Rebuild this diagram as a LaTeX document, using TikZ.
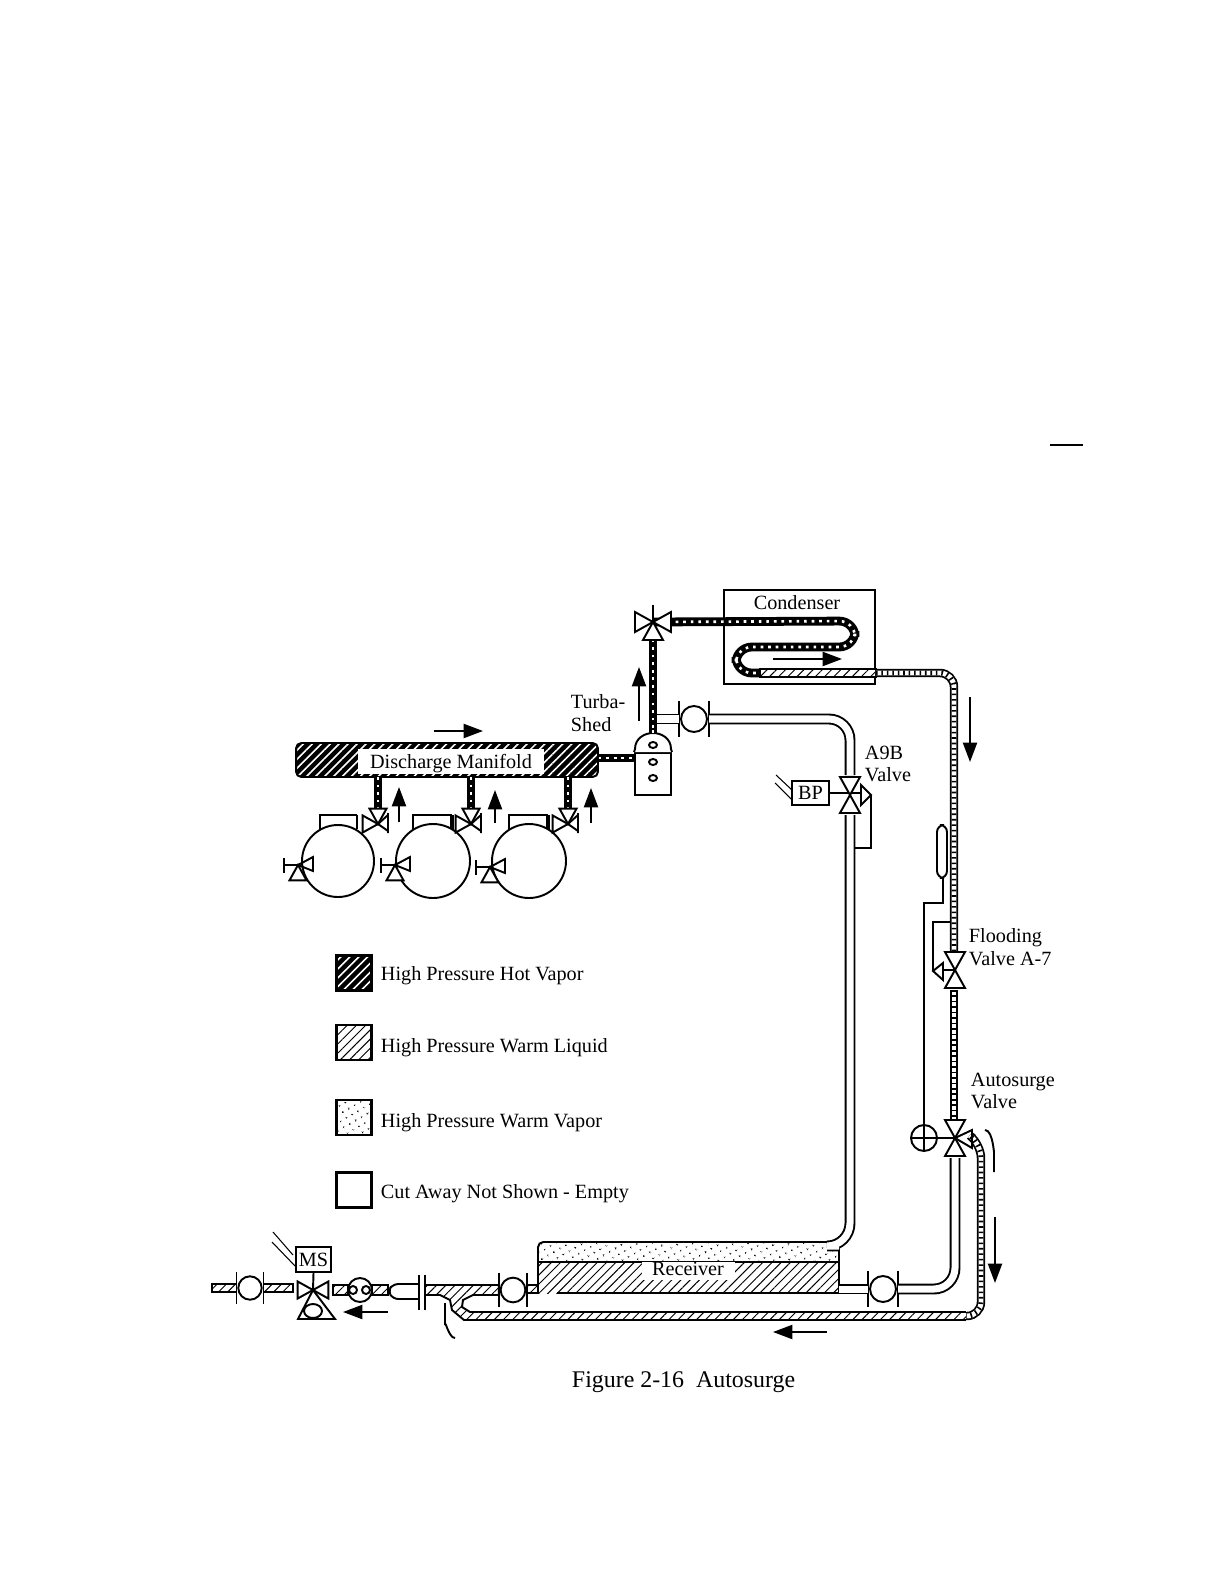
\documentclass[tikz,border=0pt]{standalone}
\usepackage{fontspec}
\setmainfont{Liberation Serif}
\usetikzlibrary{arrows.meta, calc, patterns.meta}
\tikzset{
  every picture/.style={line width=1.1pt},
  lbl/.style={font=\fontsize{11.5pt}{13pt}\selectfont, inner sep=0pt},
  leftlbl/.style={lbl, anchor=west},
  thin line/.style={line width=0.6pt},
  flowarrow/.style={-{Triangle[length=11pt,width=8pt]}, line width=1.1pt},
  hatchfill/.style={pattern={Lines[angle=45,distance=3.7pt,line width=0.55pt]}},
  hotfill/.style={preaction={fill=black}, pattern={Lines[angle=45,distance=3.6pt,line width=0.9pt]}, pattern color=white},
  dotfill/.style={pattern={Dots[radius=0.6pt,distance=4pt,angle=30]}},
  hotpipe/.style={line width=5pt, postaction={draw=white, line width=1.5pt, dash pattern=on 1.5pt off 2.8pt}},
  ladderpipe/.style={line width=4.8pt, postaction={draw=white, line width=2.8pt}, postaction={draw=black, line width=2.8pt, dash pattern=on 0.9pt off 2.2pt}},
  whitepipe/.style={line width=6.2pt, postaction={draw=white, line width=4pt}},
  liquidrun/.style={draw=black, fill=white, postaction={hatchfill}},
  legendbox/.style={draw=black, minimum size=0.7cm, inner sep=0pt, line width=1.4pt},
  tagbox/.style={draw=black, fill=white, inner sep=0pt},
  vtri/.pic={\draw[fill=white] (0,0) -- (-10,-18) -- (10,-18) -- cycle;},
  pumpunit/.pic={
    \draw (-15,-18) -- (-15,18);
    \draw (15,-18) -- (15,18);
    \draw[fill=white] (0,0) circle (13);
    \coordinate (-w) at (-15,0);
    \coordinate (-e) at (15,0);
  },
}
\begin{document}
\begin{tikzpicture}[x=0.02cm, y=-0.02cm]
  \useasboundingbox (0,0) rectangle (1224,1584);
  \draw (1050,445) -- (1083,445);

  % compressors and manifold
  \node[hotfill, draw=black, rounded corners=3pt, minimum width=6.04cm, minimum height=0.68cm, inner sep=0pt] (manifold) at (447,760) {};
  \node[lbl, fill=white, minimum width=3.74cm, minimum height=0.5cm] (maniflbl) at (451,761) {\smash{\raisebox{-4.2pt}{Discharge Manifold}}};
  \foreach \nm/\x/\r/\rl/\rr/\edge/\vx/\vy/\sx/\sy in {a/338/36/320/357/1.1/378/824/298/865, b/433/37/413/452/2.4/471/824/395/865, c/529/37/509/548/2.4/568/824/490/867} {
    \draw (\rl,829) -- (\rl,815) -- (\rr,815);
    \draw[line width=\edge pt] (\rr,815) -- (\rr,829);
    \draw[fill=white] (\x,861) circle (\r);
    \coordinate (dis\nm) at (\vx,\vy);
    \coordinate (rise\nm) at (\vx,777);
    \draw[hotpipe] (rise\nm) -- (\vx,809);
    \pic[scale=0.85] at (dis\nm) {vtri};
    \pic[scale=0.85, rotate=90] at (dis\nm) {vtri};
    \draw (\vx+10,813) -- (\vx+10,833) (\vx,\vy) -- (\vx+10,815) (\vx,\vy) -- (\vx+10,831);
    \coordinate (suc\nm) at (\sx,\sy);
    \pic[scale=0.85, rotate=180] at (suc\nm) {vtri};
    \draw (\sx+15,\sy-8) -- (\sx+15,\sy+6) -- (\sx,\sy) -- cycle;
    \draw (\sx-14,\sy-7) -- (\sx-14,\sy+8) (\sx-14,\sy) -- (\sx,\sy);
  }

  % tank, condenser
  \node[draw=black, fill=white, minimum width=0.72cm, minimum height=0.84cm, inner sep=0pt] (tank) at (653,774) {};
  \draw[fill=white] (tank.north west) -- (635,749) .. controls (635,738) and (645,733) .. (653,733) .. controls (661,733) and (671,738) .. (671,749) -- (tank.north east);
  \foreach \y in {745,762,778} \draw (653,\y) ellipse (4 and 3);
  \draw[hotpipe] (manifold.east |- 0,758) -- (tank.west |- 0,758);
  \coordinate (topvalve) at (653,622);
  \draw[hotpipe] (653,733) -- (653,638);
  \node[draw=black, fill=white, minimum width=3.02cm, minimum height=1.88cm, inner sep=0pt] (condenser) at (799.5,637) {};
  \node[lbl] (condlbl) at (797,603) {Condenser};
  \coordinate (coilend) at (760,673);
  \draw[hotpipe, rounded corners=9pt] (topvalve) -- (855,621) -- (855,647) -- (736,647) -- (736,673) -- (coilend);
  \draw[liquidrun] (coilend |- 0,669) rectangle (condenser.east |- 0,677);
  \coordinate (highbend) at (954,673);
  \coordinate (floodv) at (955,970);
  \coordinate (surgev) at (955,1138);
  \draw[ladderpipe, rounded corners=8pt] (condenser.east |- 0,673) -- (highbend) -- (954,954);
  \draw[ladderpipe] (954,990) -- (954,1122);
  \pic[rotate=-90] at (topvalve) {vtri};
  \pic[rotate=90] at (topvalve) {vtri};
  \pic[rotate=180] at (topvalve) {vtri};
  \draw (topvalve) -- (653,605);

  % vapor line to A9B
  \coordinate (hotjoin) at (656,719);
  \pic (pumpa) at (694,719) {pumpunit};
  \coordinate (a9bv) at (850,795);
  \draw[whitepipe] (hotjoin) -- (pumpa-w);
  \draw[whitepipe, rounded corners=12pt] (pumpa-e) -- (850,719) -- (850,775);
  \draw[hotpipe] (653,728) -- (653,700);
  \node[tagbox, minimum width=0.74cm, minimum height=0.48cm] (bp) at (810.5,793) {\fontsize{11.5pt}{13pt}\selectfont BP};
  \draw (bp.east) -- (861,793);
  \draw[thin line] (776,775) -- (792,790) (775,783) -- (792,800);
  \pic[scale=1] at (a9bv) {vtri};
  \pic[rotate=180] at (a9bv) {vtri};
  \draw (861,785) -- (871,795) -- (861,805) -- cycle;
  \draw (871,795) -- (871,848) -- (855,848);

  % receiver
  \coordinate (recvtr) at (839,1242);
  \path[hatchfill] (538,1262) rectangle (839,1293);
  \draw[fill=white, postaction={dotfill}, rounded corners=3pt] (538,1262) -- (538,1242) -- (recvtr) [sharp corners] -- (839,1262) -- cycle;
  \draw (538,1262) -- (538,1293) (557,1293) -- (839,1293) -- (839,1262);
  \node[lbl, fill=white, minimum width=1.86cm, minimum height=0.36cm] (receiver) at (688,1271) {\raisebox{2pt}{Receiver}};
  \draw[whitepipe, rounded corners=13pt] (850,815) -- (850,1246) -- (839,1246);

  % right side
  \pic (pumpc) at (883,1289) {pumpunit};
  \coordinate (recvout) at (839,1289);
  \draw[whitepipe] (recvout) -- (pumpc-w);
  \draw[whitepipe, rounded corners=12pt] (pumpc-e) -- (955,1289) -- (955,1158);
  \foreach \v in {floodv, surgev} {
    \pic at (\v) {vtri};
    \pic[rotate=180] at (\v) {vtri};
  }
  \draw (floodv) -- (943,970) (943,963) -- (933,971) -- (943,980) -- cycle;
  \draw (933,971) -- (933,922) -- (951,922);
  \node[draw=black, circle, minimum size=0.52cm, inner sep=0pt] (surgeball) at (924,1138) {};
  \draw (surgeball.west) -- (surgev) (surgeball.north) -- (surgeball.south);
  \draw (surgeball.south) -- (surgeball.south |- 0,903) -- (943,903) -- (943,878);
  \draw[rounded corners=4pt, fill=white] (937,878) -- (937,825) -- (947,825) -- (947,878) -- cycle;
  \draw[ladderpipe, rounded corners=8pt] (973,1138) -- (981,1144) -- (981,1316) -- (960,1316);
  \draw (surgev) -- (972,1130) -- (972,1148) -- cycle;
  \draw (985,1130) to[out=0, in=-90] (994,1150) -- (994,1172);

  % lower line
  \coordinate (retend) at (966,1316);
  \draw[liquidrun] (retend |- 0,1320) -- (470,1320) -- (470,1312) -- (retend |- 0,1312);
  \pic[scale=0.9] (pumpd) at (250,1288) {pumpunit};
  \pic[scale=0.95] (pumpe) at (513,1290) {pumpunit};
  \coordinate (lowv) at (313,1290);
  \draw[liquidrun] (212,1284) rectangle (pumpd-w |- 0,1292);
  \draw[liquidrun] (pumpd-e |- 0,1284) rectangle (293,1292);
  \draw[liquidrun] (333,1285) rectangle (348,1295);
  \draw[liquidrun] (372,1285) rectangle (388,1295);
  \draw[liquidrun] (478,1320) -- (464,1320) -- (452,1310) -- (450,1300) -- (440,1295) -- (425,1295) -- (425,1285) -- (pumpe-w |- 0,1285) -- (pumpe-w |- 0,1295) -- (473,1295) -- (463,1300) -- (462,1307) -- (470,1312) -- (478,1312);
  \draw[liquidrun] (pumpe-e |- 0,1285) rectangle (538,1293);
  \node[draw=black, fill=white, circle, minimum size=0.48cm, inner sep=0pt] (strainer) at (360,1290) {};
  \foreach \x in {353,366} \draw (\x,1290) circle (4);
  \draw[rounded corners=3pt, fill=white] (418,1284) -- (393,1284) -- (388,1291) -- (393,1299) -- (418,1299);
  \draw (419,1275) -- (419,1310) (425,1275) -- (425,1310);
  \pic[scale=0.85, rotate=-90] at (lowv) {vtri};
  \pic[scale=0.85, rotate=90] at (lowv) {vtri};
  \draw[fill=white] (lowv) -- (298,1319) -- (335,1319) -- cycle;
  \draw[fill=white] (313,1311) ellipse (9 and 7);
  \node[tagbox, minimum width=0.7cm, minimum height=0.5cm] (ms) at (313.5,1259.5) {\fontsize{11.5pt}{13pt}\selectfont MS};
  \draw (ms.south) -- (lowv);
  \draw[thin line] (273,1232) -- (293,1255) (272,1242) -- (296,1267);
  \draw (445,1303) -- (445,1325) to[out=90, in=180] (455,1338);

  % flow arrows
  \foreach \ax/\ay/\bx/\by in {434/731/483/731, 399/822/399/787, 495/823/495/790, 591/823/591/788, 639/721/639/667, 773/659/842/659, 970/697/970/762, 995/1217/995/1283, 827/1332/773/1332, 388/1312/343/1312}
    \draw[flowarrow] (\ax,\ay) -- (\bx,\by);

  % legend
  \node[legendbox, hotfill] (hothv) at (354,973) {};
  \node[legendbox, hatchfill] (warmliq) at (354,1042.5) {};
  \node[legendbox, dotfill] (warmvap) at (354,1117.5) {};
  \node[legendbox] (empty) at (354,1190) {};
  \node[leftlbl] (hottxt) at (380,976) {High Pressure Hot Vapor};
  \node[leftlbl] (liqtxt) at (380,1048) {High Pressure Warm Liquid};
  \node[leftlbl] (vaptxt) at (380,1123) {High Pressure Warm Vapor};
  \node[leftlbl] (emptytxt) at (380,1193.5) {Cut Away Not Shown - Empty};

  % labels
  \node[leftlbl, align=left] (turba) at (570,713) {Turba-\\Shed};
  \node[leftlbl, align=left] (a9blbl) at (864,764) {A9B\\Valve};
  \node[leftlbl, align=left] (floodlbl) at (968,947) {Flooding\\Valve A-7};
  \node[leftlbl, align=left] (surgelbl) at (970,1091) {Autosurge\\Valve};
  \node[leftlbl, font=\fontsize{13.6pt}{15pt}\selectfont] (caption) at (571,1382) {Figure 2-16\ \ Autosurge};
\end{tikzpicture}
\end{document}
